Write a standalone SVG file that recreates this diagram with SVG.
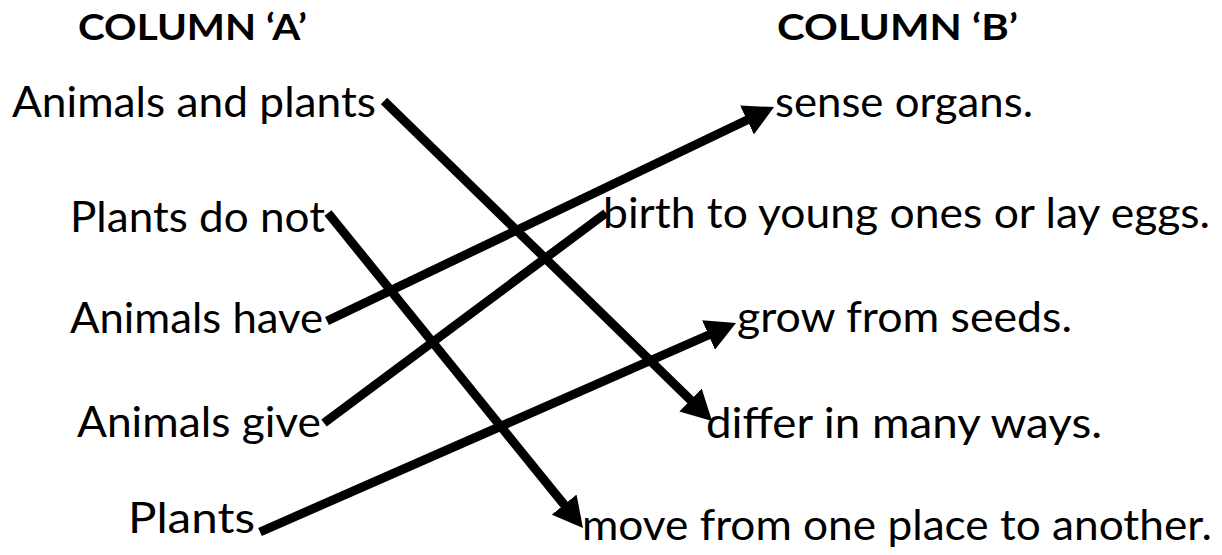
<svg xmlns="http://www.w3.org/2000/svg" width="1222" height="555" viewBox="0 0 1222 555">
<style>
.h{font-family:Lato,"Open Sans","Liberation Sans",sans-serif;font-weight:bold;font-size:36px;fill:#000}
.t{font-family:Lato,"Open Sans","Liberation Sans",sans-serif;font-size:43px;fill:#000}
.c{stroke:#000;stroke-width:9;fill:none}
</style>
<defs>
<marker id="ah" markerUnits="userSpaceOnUse" markerWidth="30" markerHeight="32" viewBox="0 0 30 32" refX="10" refY="16" orient="auto">
<path d="M0,0 L30,16 L0,32 z" fill="#000"/>
</marker>
</defs>
<rect width="1222" height="555" fill="#fff"/>
<g id="headA"><text class="h" x="78" y="40" textLength="229" lengthAdjust="spacingAndGlyphs">COLUMN ‘A’</text></g>
<g id="headB"><text class="h" x="777" y="40" textLength="241" lengthAdjust="spacingAndGlyphs">COLUMN ‘B’</text></g>
<g id="a1"><text class="t" x="12" y="117" textLength="364" lengthAdjust="spacingAndGlyphs">Animals and plants</text></g>
<g id="a2"><text class="t" x="70" y="232" textLength="255" lengthAdjust="spacingAndGlyphs">Plants do not</text></g>
<g id="a3"><text class="t" x="70" y="333" textLength="253" lengthAdjust="spacingAndGlyphs">Animals have</text></g>
<g id="a4"><text class="t" x="77" y="437" textLength="244" lengthAdjust="spacingAndGlyphs">Animals give</text></g>
<g id="a5"><text class="t" x="128" y="533" textLength="127" lengthAdjust="spacingAndGlyphs">Plants</text></g>
<g id="b1"><text class="t" x="775" y="117" textLength="258" lengthAdjust="spacingAndGlyphs">sense organs.</text></g>
<g id="b2"><text class="t" x="603" y="228" textLength="607" lengthAdjust="spacingAndGlyphs">birth to young ones or lay eggs.</text></g>
<g id="b3"><text class="t" x="737" y="332" textLength="335" lengthAdjust="spacingAndGlyphs">grow from seeds.</text></g>
<g id="b4"><text class="t" x="706" y="438" textLength="396" lengthAdjust="spacingAndGlyphs">differ in many ways.</text></g>
<g id="b5"><text class="t" x="582" y="540" textLength="630" lengthAdjust="spacingAndGlyphs">move from one place to another.</text></g>
<g id="connectors">
<line class="c" x1="384" y1="101" x2="697.7" y2="407" marker-end="url(#ah)"/>
<line class="c" x1="328" y1="213" x2="570.4" y2="512.4" marker-end="url(#ah)"/>
<line class="c" x1="327" y1="321" x2="756" y2="115.7" marker-end="url(#ah)"/>
<line class="c" x1="324" y1="423" x2="606" y2="213"/>
<line class="c" x1="260" y1="532" x2="717.7" y2="331" marker-end="url(#ah)"/>
</g>
</svg>
